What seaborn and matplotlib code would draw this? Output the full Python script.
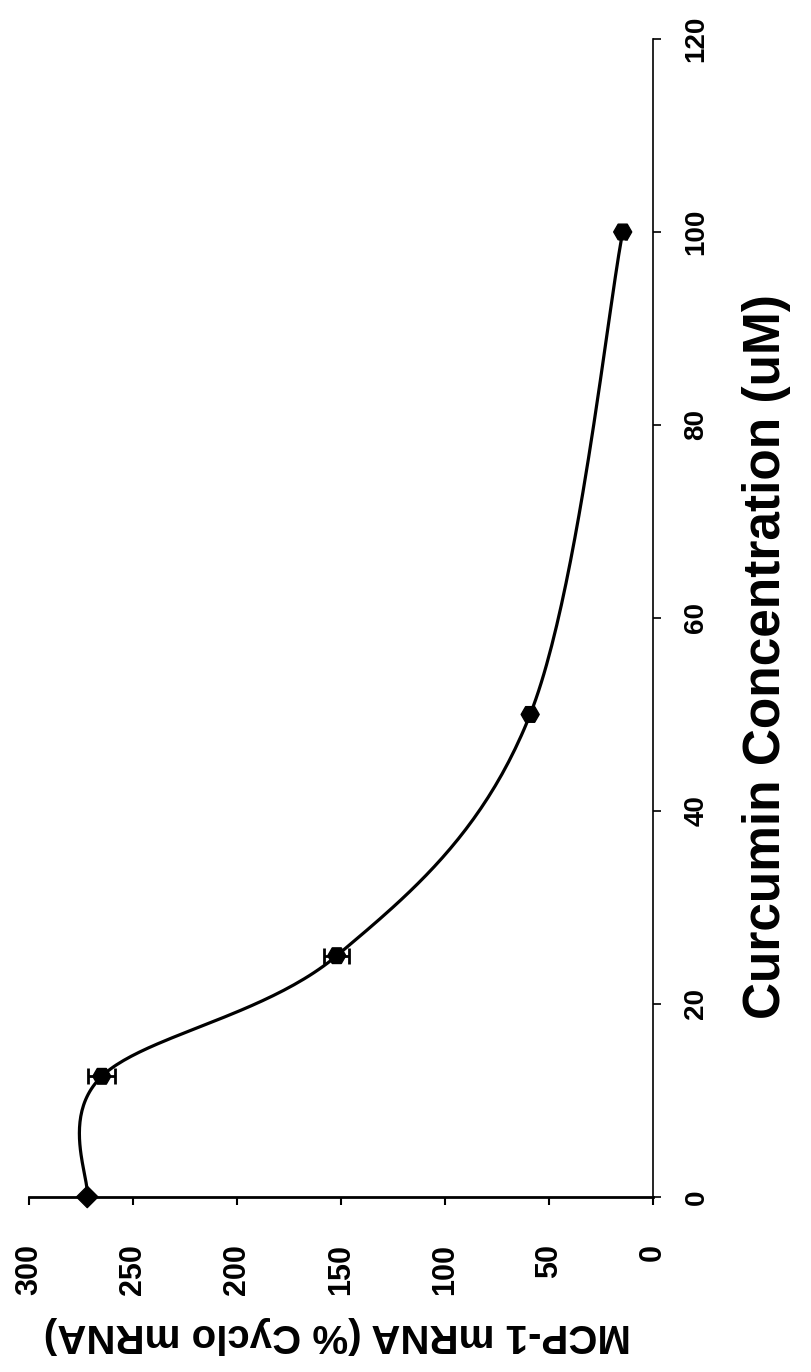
import numpy as np
import pandas as pd
import matplotlib.pyplot as plt
import seaborn as sns

conc = [0, 12.5, 25, 50, 100]          # Curcumin concentration (uM)
mrna = [272, 265, 152, 59, 14.5]        # MCP-1 mRNA (% Cyclo mRNA)
mrna_err = [0, 6.5, 6, 1.5, 1.5]
marker_kind = ["first", "rest", "rest", "rest", "rest"]

conc_ticks = [0, 20, 40, 60, 80, 100, 120]
mrna_ticks = [0, 50, 100, 150, 200, 250, 300]

df = pd.DataFrame({"conc": conc, "mrna": mrna, "err": mrna_err, "kind": marker_kind})


def smooth(xs, ys, sx, sy, n=50):
    # Excel-style smoothed line (Catmull-Rom) in screen-like scale
    p = np.column_stack([np.asarray(xs, float) * sx, np.asarray(ys, float) * sy])
    p = np.vstack([p[0], p, p[-1]])
    out = []
    for i in range(1, len(p) - 2):
        p0, p1, p2, p3 = p[i - 1], p[i], p[i + 1], p[i + 2]
        for t in np.linspace(0, 1, n, endpoint=False):
            out.append(0.5 * (2 * p1 + (-p0 + p2) * t
                              + (2 * p0 - 5 * p1 + 4 * p2 - p3) * t ** 2
                              + (-p0 + 3 * p1 - 3 * p2 + p3) * t ** 3))
    out.append(p[-2])
    out = np.array(out)
    return out[:, 0] / sx, out[:, 1] / sy


sns.set_style("ticks", {"axes.edgecolor": "black", "text.color": "black",
                        "axes.labelcolor": "black", "xtick.color": "black",
                        "ytick.color": "black"})
plt.rcParams["font.family"] = ["Liberation Sans", "DejaVu Sans"]

fig = plt.figure(figsize=(8.11, 13.72), dpi=100)
ax = fig.add_axes([0.0358, 0.1276, 0.805 - 0.0358, 0.9716 - 0.1276])

cx, cy = smooth(df["mrna"], df["conc"], 2.08, 9.65)
curve = pd.DataFrame({"x": cx, "y": cy})
sns.lineplot(data=curve, x="x", y="y", sort=False, estimator=None,
             color="black", lw=2.3, ax=ax)

ax.errorbar(df["mrna"], df["conc"], xerr=df["err"], fmt="none",
            ecolor="black", elinewidth=2, capsize=6, capthick=2, zorder=3)
sns.scatterplot(data=df, x="mrna", y="conc", style="kind", size="kind",
                markers={"first": "D", "rest": "H"},
                sizes={"first": 120, "rest": 170}, color="black",
                edgecolor="black", legend=False, zorder=4, clip_on=False, ax=ax)

ax.set_xlim(300, 0)
ax.set_ylim(0, 120)
ax.set_xticks(mrna_ticks)
ax.set_yticks(conc_ticks)

ax.spines["top"].set_visible(False)
ax.spines["left"].set_visible(False)
ax.spines["bottom"].set_linewidth(2)
ax.spines["right"].set_linewidth(1.2)
ax.yaxis.tick_right()
ax.yaxis.set_label_position("right")

ax.tick_params(axis="x", direction="out", length=6, width=1.5, pad=28,
               labelsize=22, labelrotation=90, colors="black")
ax.tick_params(axis="y", direction="out", length=6, width=1.2, pad=16,
               labelsize=20, labelrotation=90, colors="black")
for lab in ax.get_xticklabels():
    lab.set_fontweight("bold")
    lab.set_verticalalignment("top")
for lab in ax.get_yticklabels():
    lab.set_fontweight("bold")
    lab.set_verticalalignment("center")

ax.set_xlabel("MCP-1 mRNA (% Cyclo mRNA)", fontsize=29, fontweight="bold",
              rotation=180)
ax.set_ylabel("Curcumin Concentration (uM)", fontsize=37, fontweight="bold",
              rotation=90)
ax.xaxis.set_label_coords((337 - 29) / (653 - 29), -(1335 - 1197) / (1197 - 39))
ax.yaxis.set_label_coords((767 - 29) / (653 - 29), (1197 - 657) / (1197 - 39))
ax.xaxis.label.set_va("center")
ax.yaxis.label.set_va("center")
ax.yaxis.label.set_ha("center")

fig.savefig("out.png", dpi=100)
